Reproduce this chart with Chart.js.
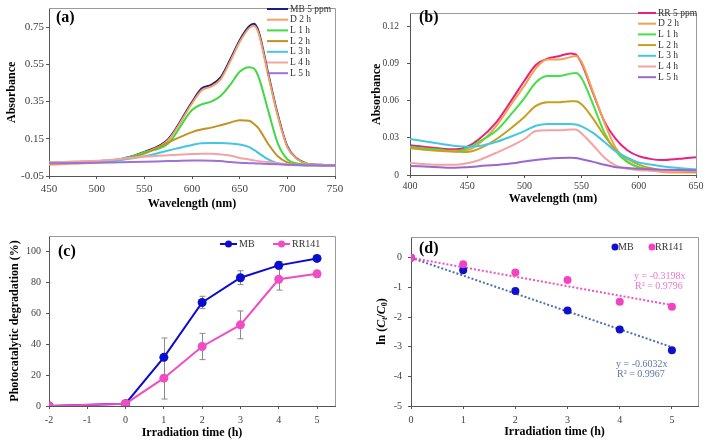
<!DOCTYPE html>
<html>
<head>
<meta charset="utf-8">
<script src="https://cdn.jsdelivr.net/npm/chart.js@4.4.0/dist/chart.umd.min.js"></script>
<style>
  body { margin: 0; background: #fff; width: 709px; height: 447px; position: relative; overflow: hidden; }
  canvas { position: absolute; }
</style>
</head>
<body>
<canvas id="ca" width="350" height="225" style="left:0;top:0"></canvas>
<canvas id="cb" width="359" height="225" style="left:350px;top:0"></canvas>
<canvas id="cc" width="350" height="222" style="left:0;top:225px"></canvas>
<canvas id="cd" width="359" height="222" style="left:350px;top:225px"></canvas>
<script>
// (a) MB spectra
var wlA = [450, 475, 500, 525, 550, 575, 600, 610, 620, 630, 640, 650, 660, 665, 670, 680, 690, 700, 710, 720, 735, 750];
var mbStart = [0.018, 0.022, 0.027, 0.040, 0.080, 0.148, 0.348, 0.420, 0.440, 0.480, 0.575, 0.680, 0.755, 0.768, 0.725, 0.500, 0.280, 0.110, 0.044, 0.018, 0.010, 0.006];
var mbDark2 = [0.010, 0.016, 0.022, 0.036, 0.076, 0.142, 0.340, 0.410, 0.430, 0.470, 0.565, 0.670, 0.745, 0.758, 0.715, 0.490, 0.272, 0.105, 0.042, 0.018, 0.010, 0.006];
var mbL1 = [0.023, 0.026, 0.030, 0.040, 0.078, 0.125, 0.305, 0.335, 0.350, 0.380, 0.440, 0.510, 0.535, 0.528, 0.480, 0.300, 0.125, 0.040, 0.018, 0.012, 0.008, 0.006];
var mbL2 = [0.020, 0.024, 0.028, 0.040, 0.070, 0.130, 0.186, 0.200, 0.210, 0.223, 0.237, 0.250, 0.247, 0.230, 0.205, 0.122, 0.056, 0.023, 0.011, 0.008, 0.007, 0.006];
var mbL3 = [0.021, 0.024, 0.027, 0.036, 0.056, 0.087, 0.117, 0.126, 0.127, 0.127, 0.125, 0.119, 0.105, 0.090, 0.073, 0.039, 0.018, 0.011, 0.008, 0.007, 0.006, 0.006];
var mbL4 = [0.023, 0.027, 0.032, 0.042, 0.053, 0.061, 0.068, 0.070, 0.069, 0.066, 0.060, 0.047, 0.039, 0.034, 0.030, 0.025, 0.018, 0.013, 0.010, 0.008, 0.007, 0.006];
var mbL5 = [0.018, 0.020, 0.021, 0.024, 0.027, 0.030, 0.033, 0.033, 0.032, 0.030, 0.025, 0.021, 0.019, 0.018, 0.017, 0.015, 0.013, 0.011, 0.009, 0.008, 0.007, 0.006];
var namesA = ['MB 5 ppm', 'D 2 h', 'L 1 h', 'L 2 h', 'L 3 h', 'L 4 h', 'L 5 h'];
var xTicksA = [450, 500, 550, 600, 650, 700, 750];
var yTicksA = [-0.05, 0.15, 0.35, 0.55, 0.75];

// (b) RR141 spectra
var wlB = [400, 425, 440, 450, 460, 475, 490, 500, 510, 520, 530, 540, 545, 550, 560, 570, 580, 590, 600, 610, 620, 635, 650];
var rrStart = [0.0240, 0.0215, 0.0207, 0.0228, 0.0286, 0.0420, 0.0620, 0.0760, 0.0886, 0.0937, 0.0957, 0.0980, 0.0970, 0.0900, 0.0660, 0.0430, 0.0290, 0.0200, 0.0152, 0.0130, 0.0120, 0.0130, 0.0144];
var rrDark2 = [0.0220, 0.0197, 0.0195, 0.0200, 0.0250, 0.0390, 0.0590, 0.0720, 0.0860, 0.0930, 0.0930, 0.0950, 0.0960, 0.0910, 0.0670, 0.0420, 0.0215, 0.0110, 0.0060, 0.0038, 0.0025, 0.0020, 0.0020];
var rrL1 = [0.0225, 0.0205, 0.0190, 0.0215, 0.0266, 0.0354, 0.0506, 0.0620, 0.0746, 0.0797, 0.0797, 0.0817, 0.0822, 0.0780, 0.0570, 0.0340, 0.0190, 0.0104, 0.0063, 0.0046, 0.0040, 0.0038, 0.0038];
var rrL2 = [0.0215, 0.0195, 0.0188, 0.0185, 0.0210, 0.0286, 0.0390, 0.0468, 0.0557, 0.0587, 0.0587, 0.0595, 0.0595, 0.0570, 0.0455, 0.0316, 0.0200, 0.0132, 0.0084, 0.0056, 0.0038, 0.0030, 0.0025];
var rrL3 = [0.0290, 0.0253, 0.0233, 0.0228, 0.0233, 0.0266, 0.0316, 0.0354, 0.0397, 0.0412, 0.0412, 0.0412, 0.0407, 0.0392, 0.0340, 0.0266, 0.0190, 0.0139, 0.0101, 0.0085, 0.0071, 0.0056, 0.0046];
var rrL4 = [0.0096, 0.0083, 0.0083, 0.0094, 0.0119, 0.0177, 0.0240, 0.0290, 0.0354, 0.0360, 0.0360, 0.0367, 0.0367, 0.0334, 0.0240, 0.0139, 0.0076, 0.0050, 0.0038, 0.0035, 0.0033, 0.0033, 0.0033];
var rrL5 = [0.0073, 0.0063, 0.0058, 0.0063, 0.0071, 0.0081, 0.0094, 0.0109, 0.0121, 0.0131, 0.0137, 0.0139, 0.0137, 0.0127, 0.0106, 0.0083, 0.0063, 0.0056, 0.0050, 0.0046, 0.0043, 0.0040, 0.0038];
var namesB = ['RR 5 ppm', 'D 2 h', 'L 1 h', 'L 2 h', 'L 3 h', 'L 4 h', 'L 5 h'];
var xTicksB = [400, 450, 500, 550, 600, 650];
var yTicksB = [0, 0.03, 0.06, 0.09, 0.12];

// (c) degradation vs time
var timeC = [-2, 0, 1, 2, 3, 4, 5];
var degMB = [0, 1.5, 31.5, 67, 83, 91, 95.5];
var errMB = [0, 0.5, 12.5, 4, 4.5, 2.5, 1];
var degRR = [0, 1.5, 18, 38.5, 52.5, 82, 85.5];
var errRR = [0, 0.5, 13.5, 8.5, 9, 7, 2];
var xTicksC = [-2, -1, 0, 1, 2, 3, 4, 5];
var yTicksC = [0, 20, 40, 60, 80, 100];

// (d) kinetics
var timeD = [0, 1, 2, 3, 4, 5];
var lnMB = [0, -0.42, -1.12, -1.78, -2.42, -3.12];
var lnRR = [0, -0.22, -0.50, -0.75, -1.48, -1.65];
var fitX = [0, 5];
var fitMB = [0, -3.016];
var fitRR = [0, -1.599];
var xTicksD = [0, 1, 2, 3, 4, 5];
var yTicksD = [-5, -4, -3, -2, -1, 0];

var SERIF = '"Liberation Serif", "Times New Roman", serif';
Chart.defaults.font.family = SERIF;
Chart.defaults.color = '#404040';
Chart.defaults.animation = false;
Chart.defaults.plugins.legend.display = false;
Chart.defaults.plugins.tooltip.enabled = false;

function pairs(xs, ys) {
  return xs.map(function (x, i) { return { x: x, y: ys[i] }; });
}

function axis(o) {
  return {
    type: 'linear', min: o.min, max: o.max,
    afterBuildTicks: function (s) { s.ticks = o.ticks.map(function (v) { return { value: v }; }); },
    afterFit: function (s) { if (o.w) s.width = o.w; if (o.h) s.height = o.h; },
    grid: { display: true, drawOnChartArea: false, drawTicks: true, tickLength: 3, color: '#555' },
    border: { display: true, color: '#555', width: 1 },
    ticks: { autoSkip: false, maxRotation: 0, padding: o.pad, color: '#404040', font: { size: o.fs }, callback: o.fmt },
    title: { display: !!o.title, text: o.title, color: '#000', font: { size: 12, weight: 'bold' }, padding: o.tpad }
  };
}

// error bars, frame, tag, legend, texts
var deco = {
  id: 'deco',
  beforeDatasetsDraw: function (chart) {
    var ctx = chart.ctx, xs = chart.scales.x, ys = chart.scales.y;
    chart.data.datasets.forEach(function (ds) {
      if (!ds.errors) return;
      ctx.save();
      ctx.strokeStyle = '#8a8a8a';
      ctx.lineWidth = 1;
      ds.data.forEach(function (p, i) {
        var e = ds.errors[i];
        if (!e) return;
        var px = Math.round(xs.getPixelForValue(p.x)) + 0.5;
        var y1 = ys.getPixelForValue(p.y + e), y2 = ys.getPixelForValue(p.y - e);
        ctx.beginPath();
        ctx.moveTo(px, y1); ctx.lineTo(px, y2);
        ctx.moveTo(px - 3, y1); ctx.lineTo(px + 3, y1);
        ctx.moveTo(px - 3, y2); ctx.lineTo(px + 3, y2);
        ctx.stroke();
      });
      ctx.restore();
    });
  },
  afterDraw: function (chart, args, o) {
    var ctx = chart.ctx, a = chart.chartArea;
    ctx.save();
    ctx.strokeStyle = '#9a9a9a';
    ctx.lineWidth = 1;
    ctx.beginPath();
    ctx.moveTo(a.left, Math.floor(a.top) + 0.5);
    ctx.lineTo(Math.floor(a.right) + 0.5, Math.floor(a.top) + 0.5);
    ctx.lineTo(Math.floor(a.right) + 0.5, a.bottom);
    ctx.stroke();

    ctx.fillStyle = '#000';
    ctx.textBaseline = 'middle';
    ctx.textAlign = 'left';
    ctx.font = 'bold 16px ' + SERIF;
    ctx.fillText(o.tag[0], o.tag[1], o.tag[2]);

    var L = o.legend;
    ctx.font = L.fs + 'px ' + SERIF;
    L.items.forEach(function (di, k) {
      var ds = chart.data.datasets[di];
      var x = L.x + k * (L.dx || 0), y = L.y + k * (L.dy || 0);
      ctx.strokeStyle = ds.borderColor;
      ctx.fillStyle = ds.pointBackgroundColor || ds.borderColor;
      if (L.mode === 'dot') {
        ctx.beginPath(); ctx.arc(x, y, 3.5, 0, Math.PI * 2); ctx.fill();
        ctx.fillStyle = '#333';
        ctx.fillText(ds.label, x + 3, y);
        return;
      }
      ctx.lineWidth = 2;
      ctx.beginPath(); ctx.moveTo(x, y); ctx.lineTo(x + L.len, y); ctx.stroke();
      if (L.mode === 'linemark') {
        ctx.beginPath(); ctx.arc(x + L.len / 2, y, 3.5, 0, Math.PI * 2); ctx.fill();
      }
      ctx.fillStyle = '#333';
      ctx.fillText(ds.label, x + L.len + 2, y);
    });

    (o.texts || []).forEach(function (t) {
      ctx.font = '10px ' + SERIF;
      ctx.fillStyle = t[3];
      ctx.textAlign = 'left';
      ctx.fillText(t[0], t[1], t[2]);
    });

    if (o.lnTitle) {
      var cx = o.lnTitle[0], cy = (a.top + a.bottom) / 2;
      var parts = [['ln (', 'bold 12px', 0], ['C', 'italic bold 12px', 0], ['t', 'italic bold 8px', 3],
                   ['/', 'bold 12px', 0], ['C', 'italic bold 12px', 0], ['0', 'bold 8px', 3], [')', 'bold 12px', 0]];
      var total = 0;
      parts.forEach(function (p) { ctx.font = p[1] + ' ' + SERIF; total += ctx.measureText(p[0]).width; });
      ctx.translate(cx, cy);
      ctx.rotate(-Math.PI / 2);
      ctx.fillStyle = '#000';
      ctx.textBaseline = 'middle';
      var px = -total / 2;
      parts.forEach(function (p) {
        ctx.font = p[1] + ' ' + SERIF;
        ctx.fillText(p[0], px, p[2]);
        px += ctx.measureText(p[0]).width;
      });
    }
    ctx.restore();
  }
};

function spectra(xs, series, names, colors) {
  return series.map(function (ys, i) {
    return {
      label: names[i], data: pairs(xs, ys), borderColor: colors[i], borderWidth: 2,
      pointRadius: 0, cubicInterpolationMode: 'monotone', order: -i, fill: false
    };
  });
}

new Chart(document.getElementById('ca'), {
  type: 'line',
  data: { datasets: spectra(wlA, [mbStart, mbDark2, mbL1, mbL2, mbL3, mbL4, mbL5], namesA,
    ['#1c1c8a', '#f4a263', '#42d842', '#c29222', '#42c6e8', '#f2a4a4', '#a070d4']) },
  options: {
    responsive: false,
    layout: { padding: { left: 0, top: 3, right: 15, bottom: 0 } },
    scales: {
      x: axis({ min: 450, max: 750, ticks: xTicksA, h: 49, pad: 4, fs: 11, fmt: function (v) { return String(v); },
        title: 'Wavelength (nm)', tpad: { top: 0, bottom: 14 } }),
      y: axis({ min: -0.05, max: 0.85, ticks: yTicksA, w: 49, pad: 2, fs: 11, fmt: function (v) { return v.toFixed(2); },
        title: 'Absorbance', tpad: { top: 5, bottom: 0 } })
    },
    plugins: { deco: { tag: ['(a)', 56, 18], legend: { mode: 'line', x: 267, y: 9, dy: 10.7, len: 21, fs: 9.5, items: [0, 1, 2, 3, 4, 5, 6] } } }
  },
  plugins: [deco]
});

new Chart(document.getElementById('cb'), {
  type: 'line',
  data: { datasets: spectra(wlB, [rrStart, rrDark2, rrL1, rrL2, rrL3, rrL4, rrL5], namesB,
    ['#e8207f', '#f0a24e', '#44e044', '#c8a020', '#44c8e2', '#f4a2a2', '#9a68cc']) },
  options: {
    responsive: false,
    layout: { padding: { left: 0, top: 4, right: 13, bottom: 0 } },
    scales: {
      x: axis({ min: 400, max: 650, ticks: xTicksB, h: 50, pad: 2, fs: 10, fmt: function (v) { return String(v); },
        title: 'Wavelength (nm)', tpad: { top: 0, bottom: 19 } }),
      y: axis({ min: 0, max: 0.13, ticks: yTicksB, w: 60, pad: 8, fs: 9.5, fmt: function (v) { return v === 0 ? '0' : v.toFixed(2); },
        title: 'Absorbance', tpad: { top: 20, bottom: 0 } })
    },
    plugins: { deco: { tag: ['(b)', 69, 18], legend: { mode: 'line', x: 288, y: 13, dy: 10.7, len: 18, fs: 9.5, items: [0, 1, 2, 3, 4, 5, 6] } } }
  },
  plugins: [deco]
});

new Chart(document.getElementById('cc'), {
  type: 'line',
  data: {
    datasets: [
      { label: 'MB', data: pairs(timeC, degMB), errors: errMB, borderColor: '#0c0cd0', pointBackgroundColor: '#0c0cd0',
        borderWidth: 2, pointRadius: 4.5, pointBorderWidth: 0, tension: 0, order: 1 },
      { label: 'RR141', data: pairs(timeC, degRR), errors: errRR, borderColor: '#f04cc4', pointBackgroundColor: '#f04cc4',
        borderWidth: 2, pointRadius: 4.5, pointBorderWidth: 0, tension: 0, order: 0 }
    ]
  },
  options: {
    responsive: false,
    layout: { padding: { left: 0, top: 9, right: 15, bottom: 0 } },
    scales: {
      x: axis({ min: -2, max: 5.47, ticks: xTicksC, h: 41, pad: 5, fs: 10, fmt: function (v) { return String(v); },
        title: 'Irradiation time (h)', tpad: { top: 0, bottom: 7 } }),
      y: axis({ min: 0, max: 110, ticks: yTicksC, w: 49, pad: 5, fs: 10, fmt: function (v) { return String(v); },
        title: 'Photocatalytic degradation (%)', tpad: { top: 8, bottom: 0 } })
    },
    plugins: { deco: { tag: ['(c)', 58, 27], legend: { mode: 'linemark', x: 220, y: 19, dx: 53, len: 17, fs: 10, items: [0, 1] } } }
  },
  plugins: [deco]
});

new Chart(document.getElementById('cd'), {
  type: 'line',
  data: {
    datasets: [
      { label: 'MB', data: pairs(timeD, lnMB), showLine: false, borderColor: '#1010cc', pointBackgroundColor: '#1010cc',
        pointRadius: 4, pointBorderWidth: 0, order: 1 },
      { label: 'RR141', data: pairs(timeD, lnRR), showLine: false, borderColor: '#f044c0', pointBackgroundColor: '#f044c0',
        pointRadius: 4, pointBorderWidth: 0, order: 0 },
      { label: 'MB fit', data: pairs(fitX, fitMB), borderColor: '#4a72b0', borderWidth: 2, borderDash: [2, 2],
        pointRadius: 0, order: 3 },
      { label: 'RR141 fit', data: pairs(fitX, fitRR), borderColor: '#f050c8', borderWidth: 2, borderDash: [2, 2],
        pointRadius: 0, order: 2 }
    ]
  },
  options: {
    responsive: false,
    layout: { padding: { left: 0, top: 9, right: 11, bottom: 0 } },
    scales: {
      x: axis({ min: 0, max: 5.5, ticks: xTicksD, h: 41, pad: 5, fs: 10, fmt: function (v) { return String(v); },
        title: 'Irradiation time (h)', tpad: { top: 0, bottom: 8 } }),
      y: axis({ min: -5, max: 0.7, ticks: yTicksD, w: 61, pad: 6, fs: 10, fmt: function (v) { return String(v); } })
    },
    plugins: { deco: {
      tag: ['(d)', 69, 24],
      legend: { mode: 'dot', x: 265, y: 22, dx: 37, fs: 10, items: [0, 1] },
      texts: [['y = -0.3198x', 284, 51, '#e878cc'], ['R\u00b2 = 0.9796', 285, 61, '#e878cc'],
              ['y = -0.6032x', 266, 139, '#5a78a8'], ['R\u00b2 = 0.9967', 267, 149, '#5a78a8']],
      lnTitle: [32]
    } }
  },
  plugins: [deco]
});
</script>
</body>
</html>
